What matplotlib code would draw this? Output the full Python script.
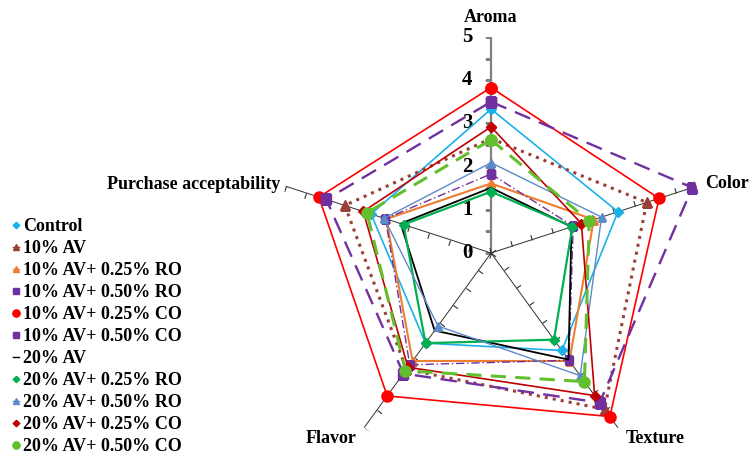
import numpy as np
import matplotlib
matplotlib.use('Agg')
import matplotlib.pyplot as plt
from matplotlib.markers import MarkerStyle
from matplotlib.path import Path
from matplotlib.transforms import Affine2D

plt.rcParams['font.family'] = 'Liberation Serif'
plt.rcParams['font.weight'] = 'bold'

# Sensory attributes (clockwise from the top)
attributes = ['Aroma', 'Color', 'Texture', 'Flavor', 'Purchase acceptability']

# Mean scores per formulation, same order as attributes
control = [3.33, 3.09, 2.79, 2.58, 2.92]
av10 = [2.65, 3.79, 4.47, 3.33, 3.56]
av10_ro25 = [1.61, 2.50, 3.09, 3.09, 2.55]
av10_ro50 = [1.83, 2.00, 3.07, 3.20, 2.57]
av10_co25 = [3.83, 4.09, 4.68, 4.09, 4.19]
av10_co50 = [3.50, 4.90, 4.28, 3.45, 4.01]
av20 = [1.51, 1.96, 3.05, 2.22, 2.20]
av20_ro25 = [1.42, 1.98, 2.48, 2.58, 2.13]
av20_ro50 = [2.09, 2.69, 3.51, 2.09, 2.60]
av20_co25 = [2.92, 2.20, 4.08, 3.27, 3.11]
av20_co50 = [2.62, 2.39, 3.68, 3.37, 3.02]

series = [
    ('Control', control, '#1CB0E8', '-', 'D', 5, 1.2),
    ('10% AV', av10, '#9A4036', ':', '^', 7, 2.2),
    ('10% AV+ 0.25% RO', av10_ro25, '#ED7D31', '-', '^', 6, 1.5),
    ('10% AV+ 0.50% RO', av10_ro50, '#7030A0', (0, (6, 2, 1, 2)), 's', 6, 1.0),
    ('10% AV+ 0.25% CO', av10_co25, '#FF0000', '-', 'o', 8, 1.2),
    ('10% AV+ 0.50% CO', av10_co50, '#7030A0', (0, (7, 4)), 's', 7, 1.7),
    ('20% AV', av20, '#000000', '-', None, 0, 1.3),
    ('20% AV+ 0.25% RO', av20_ro25, '#00B050', '-', 'D', 5, 1.6),
    ('20% AV+ 0.50% RO', av20_ro50, '#5B8BC9', '-', '^', 6, 1.0),
    ('20% AV+ 0.25% CO', av20_co25, '#C00000', '-', 'D', 5, 1.2),
    ('20% AV+ 0.50% CO', av20_co50, '#62BF2E', (0, (5, 3)), 'o', 8, 2.2),
]

n = len(attributes)
theta = np.arange(n) * 2 * np.pi / n
theta_closed = np.append(theta, theta[0])

fig = plt.figure(figsize=(7.5, 4.54), dpi=100)
ax = fig.add_axes([0.3667, -0.033, 0.576, 0.9515], projection='polar')
ax.set_theta_zero_location('N')
ax.set_theta_direction(-1)
ax.set_ylim(0, 5)
ax.grid(False)
ax.spines['polar'].set_visible(False)
ax.set_xticks([])
ax.set_yticks([])
ax.patch.set_alpha(0)

# spokes with small one-sided tick marks every 0.5
tick_path = Path([(0, 0), (-1, 0)])
tick_r = np.arange(0, 5.01, 0.5)
for i, t in enumerate(theta):
    col = '#808080' if i == 0 else '#303030'
    lw = 1.6 if i == 0 else 0.7
    ax.plot([t, t], [0, 5], color=col, lw=lw, zorder=1)
    phi = 90 - np.degrees(t)
    mk = MarkerStyle(tick_path, transform=Affine2D().rotate_deg(phi - 90))
    ax.plot(np.full(len(tick_r), t), tick_r, ls='none', marker=mk,
            markersize=8, markeredgecolor=col, markeredgewidth=0.8, zorder=1)

# value labels along the aroma spoke
for v in range(6):
    ax.annotate(str(v), xy=(0, v), xytext=(-17, 0), textcoords='offset points',
                ha='center', va='center', fontsize=15, fontweight='bold')

# attribute labels
ax.text(theta[0], 5.45, attributes[0], ha='center', va='center', fontsize=13)
ax.text(theta[1], 5.22, attributes[1], ha='left', va='center', fontsize=13)
ax.text(theta[2], 5.3, attributes[2], ha='left', va='center', fontsize=13)
ax.text(theta[3], 5.3, attributes[3], ha='right', va='center', fontsize=13)
ax.text(theta[4], 5.12, attributes[4], ha='right', va='center', fontsize=13)

handles = []
for name, vals, color, ls, marker, ms, lw in series:
    vals_closed = np.append(vals, vals[0])
    line, = ax.plot(theta_closed, vals_closed, color=color, linestyle=ls, lw=lw,
                    marker=marker, markersize=ms, label=name, zorder=3)
    handles.append(line)

leg = fig.legend(handles=handles, loc='upper left', bbox_to_anchor=(0.005, 0.54),
                 frameon=False, fontsize=13, handlelength=0.35, handletextpad=0.2,
                 labelspacing=0.28, borderpad=0.0, markerscale=0.65)
for h in leg.legend_handles:
    h.set_linewidth(1.0)
    h.set_linestyle('-')

fig.savefig('out.png', dpi=100)
